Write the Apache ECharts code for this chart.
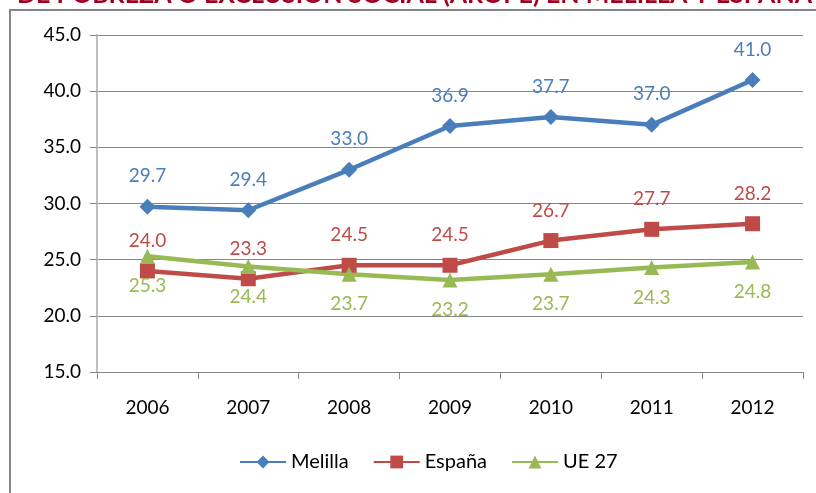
<!DOCTYPE html>
<html>
<head>
<meta charset="utf-8">
<script src="https://cdn.jsdelivr.net/npm/echarts@6/dist/echarts.min.js"></script>
<style>
  html, body { margin: 0; padding: 0; background: #ffffff; }
  #chart { width: 816px; height: 493px; }
</style>
</head>
<body>
<div id="chart"></div>
<script>
// AROPE rate (%) by year
const years = ['2006', '2007', '2008', '2009', '2010', '2011', '2012'];
const melilla = [29.7, 29.4, 33.0, 36.9, 37.7, 37.0, 41.0];
const espana = [24.0, 23.3, 24.5, 24.5, 26.7, 27.7, 28.2];
const ue27 = [25.3, 24.4, 23.7, 23.2, 23.7, 24.3, 24.8];
const yTicks = { min: 15, max: 45, step: 5 };

const FONT = 'Lato, "Open Sans", sans-serif';
const chart = echarts.init(document.getElementById('chart'), null, { renderer: 'canvas' });

function lineSeries(name, data, color, symbol, size, labelPos) {
  return {
    name: name,
    type: 'line',
    data: data,
    symbol: symbol,
    symbolSize: size,
    showAllSymbol: true,
    lineStyle: { color: color, width: 4.5 },
    itemStyle: { color: color },
    label: {
      show: true,
      position: labelPos,
      distance: 13,
      color: color,
      fontFamily: FONT,
      fontSize: 19,
      formatter: p => p.value.toFixed(1)
    },
    emphasis: { disabled: true },
    animation: false
  };
}

chart.setOption({
  backgroundColor: '#ffffff',
  animation: false,
  graphic: [
    {
      type: 'rect',
      shape: { x: 10, y: 10, width: 1000, height: 1000 },
      style: { fill: 'none', stroke: '#868686', lineWidth: 2 },
      z: 0
    },
    {
      type: 'text',
      x: 17,
      y: 7,
      style: {
        text: 'DE POBREZA O EXCLUSIÓN SOCIAL (AROPE) EN MELILLA Y ESPAÑA',
        fill: '#A00020',
        font: 'bold 25px ' + FONT,
        textVerticalAlign: 'bottom'
      },
      z: 1
    }
  ],
  grid: { left: 97, right: 13, top: 35, bottom: 121, containLabel: false },
  legend: {
    bottom: 16,
    left: 234,
    itemWidth: 46,
    itemHeight: 16,
    itemGap: 24,
    textStyle: { fontFamily: FONT, fontSize: 20, color: '#000' },
    data: ['Melilla', 'España', 'UE 27']
  },
  xAxis: {
    type: 'category',
    data: years,
    boundaryGap: true,
    axisLine: { lineStyle: { color: '#868686', width: 1 } },
    axisTick: { show: true, length: 7, lineStyle: { color: '#868686' } },
    axisLabel: { fontFamily: FONT, fontSize: 19, color: '#000', margin: 26 }
  },
  yAxis: {
    type: 'value',
    min: yTicks.min,
    max: yTicks.max,
    interval: yTicks.step,
    axisLine: { show: true, lineStyle: { color: '#BFBFBF', width: 2 } },
    axisTick: { show: true, length: 7, lineStyle: { color: '#868686' } },
    splitLine: { lineStyle: { color: '#868686', width: 1 } },
    axisLabel: {
      fontFamily: FONT, fontSize: 19, color: '#000', margin: 16,
      formatter: v => v.toFixed(1)
    }
  },
  series: [
    lineSeries('Melilla', melilla, '#4A7EBB', 'diamond', 16, 'top'),
    lineSeries('España', espana, '#BE4B48', 'rect', 15, 'top'),
    lineSeries('UE 27', ue27, '#98B954', 'triangle', 15, 'bottom')
  ]
});
</script>
</body>
</html>
